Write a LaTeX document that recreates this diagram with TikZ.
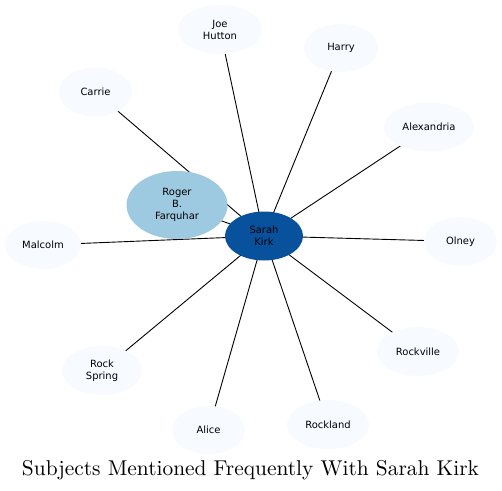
\documentclass[tikz,border=0pt]{standalone}
\usepackage{fontspec}
\newfontfamily\labelfont{DejaVu Sans}
\newfontfamily\titlefont{lmroman10-regular.otf}
\usetikzlibrary{shapes.geometric,backgrounds}
\definecolor{hubblue}{RGB}{8,81,156}
\definecolor{midblue}{RGB}{158,202,225}
\definecolor{paleblue}{RGB}{247,251,255}
\tikzset{
  ent/.style={ellipse, inner sep=0pt, align=center, fill=paleblue,
    font=\labelfont\fontsize{10}{12}\selectfont, text=black},
  link/.style={draw=black, line width=0.9bp},
}
\begin{document}
\begin{tikzpicture}[x=1bp,y=-1bp]
\useasboundingbox (0,0) rectangle (502,491);
\node[ent, fill=hubblue, minimum width=78bp, minimum height=49bp] (sarah) at (264,236) {Sarah\\Kirk};
\node[ent, fill=midblue, minimum width=101bp, minimum height=68bp] (roger) at (177,205) {Roger\\B.\\Farquhar};
\node[ent, minimum width=84bp, minimum height=49bp] (joe) at (220,29.5) {Joe\\Hutton};
\node[ent, minimum width=74bp, minimum height=48bp] (harry) at (341,48) {Harry};
\node[ent, minimum width=73bp, minimum height=49bp] (carrie) at (95.5,92) {Carrie};
\node[ent, minimum width=90bp, minimum height=49bp] (alex) at (429,127) {Alexandria};
\node[ent, minimum width=73bp, minimum height=49bp] (olney) at (460.5,241.5) {Olney};
\node[ent, minimum width=76bp, minimum height=48bp] (malcolm) at (43,245) {Malcolm};
\node[ent, minimum width=82bp, minimum height=49bp] (rockville) at (418,351.5) {Rockville};
\node[ent, minimum width=80bp, minimum height=49bp] (rockspring) at (102,370.5) {Rock\\Spring};
\node[ent, minimum width=73bp, minimum height=48bp] (alice) at (208.5,430) {Alice};
\node[ent, minimum width=82bp, minimum height=49bp] (rockland) at (328,424.5) {Rockland};
\node[font=\titlefont\fontsize{21.5}{23}\selectfont, anchor=base] (title) at (250.5,475) {Subjects Mentioned Frequently With Sarah Kirk};
\begin{scope}[on background layer]
\foreach \n in {roger,joe,harry,carrie,alex,olney,malcolm,rockville,rockspring,alice,rockland}
  \draw[link] (sarah.center) -- (\n.center);
\end{scope}
\end{tikzpicture}
\end{document}
